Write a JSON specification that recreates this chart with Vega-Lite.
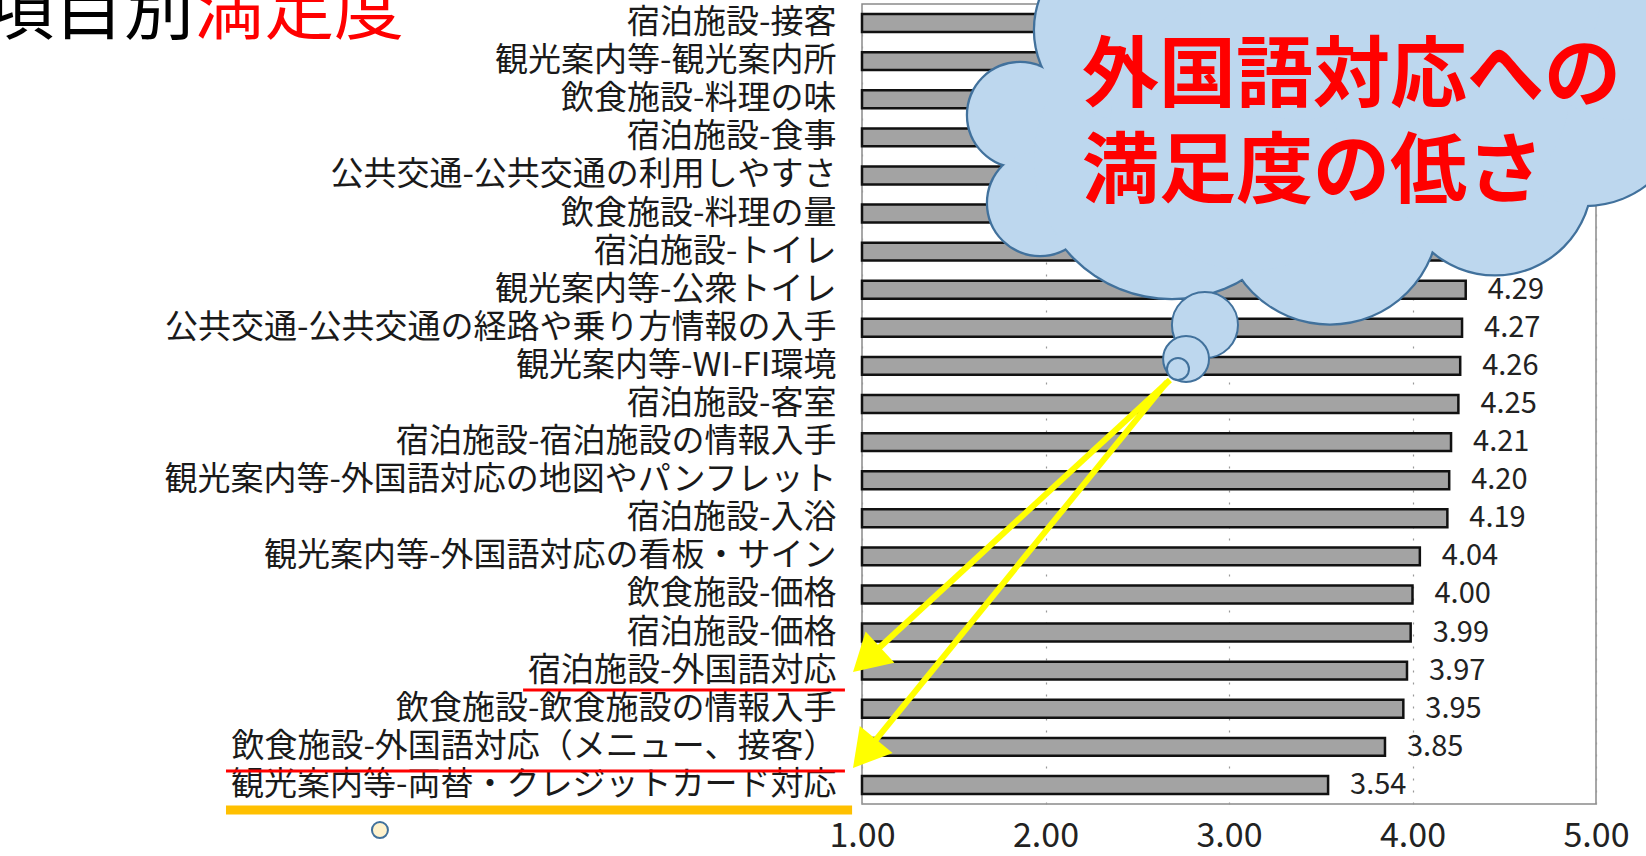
{
  "$schema": "https://vega.github.io/schema/vega-lite/v6.json",
  "width": 734,
  "height": 800,
  "autosize": {"type": "none"},
  "padding": {"left": 862, "top": 4, "right": 50, "bottom": 52},
  "background": "white",
  "config": {
    "font": "Noto Sans CJK JP",
    "view": {"stroke": "#8a8a8a", "strokeWidth": 1.5},
    "axisX": {"format": ".2f", "domain": false, "ticks": false, "labelFontSize": 34, "labelColor": "#222222", "labelPadding": 15, "labelFlush": false, "labelOverlap": false, "grid": true, "gridColor": "#999999", "gridDash": [2, 10], "gridWidth": 1.2, "labelFont": "Noto Sans CJK JP", "tickCount": 5}
  },
  "datasets": {
    "bars": [
      {"item": "宿泊施設-接客", "value": 4.58},
      {"item": "観光案内等-観光案内所", "value": 4.50},
      {"item": "飲食施設-料理の味", "value": 4.47},
      {"item": "宿泊施設-食事", "value": 4.43},
      {"item": "公共交通-公共交通の利用しやすさ", "value": 4.38},
      {"item": "飲食施設-料理の量", "value": 4.34},
      {"item": "宿泊施設-トイレ", "value": 4.31},
      {"item": "観光案内等-公衆トイレ", "value": 4.29},
      {"item": "公共交通-公共交通の経路や乗り方情報の入手", "value": 4.27},
      {"item": "観光案内等-WI-FI環境", "value": 4.26},
      {"item": "宿泊施設-客室", "value": 4.25},
      {"item": "宿泊施設-宿泊施設の情報入手", "value": 4.21},
      {"item": "観光案内等-外国語対応の地図やパンフレット", "value": 4.20},
      {"item": "宿泊施設-入浴", "value": 4.19},
      {"item": "観光案内等-外国語対応の看板・サイン", "value": 4.04},
      {"item": "飲食施設-価格", "value": 4.00},
      {"item": "宿泊施設-価格", "value": 3.99},
      {"item": "宿泊施設-外国語対応", "value": 3.97},
      {"item": "飲食施設-飲食施設の情報入手", "value": 3.95},
      {"item": "飲食施設-外国語対応（メニュー、接客）", "value": 3.85},
      {"item": "観光案内等-両替・クレジットカード対応", "value": 3.54}
    ],
    "cloud": [
      {"x": 1.861, "y": 2.414, "r": 0.283},
      {"x": 1.970, "y": 4.724, "r": 0.283},
      {"x": 2.689, "y": 3.595, "r": 0.752},
      {"x": 3.550, "y": 5.039, "r": 0.589},
      {"x": 4.450, "y": 4.068, "r": 0.523},
      {"x": 4.940, "y": 2.151, "r": 0.545},
      {"x": 2.433, "y": 0.183, "r": 0.490},
      {"x": 3.114, "y": 2.808, "r": 0.763},
      {"x": 4.204, "y": 1.757, "r": 0.654},
      {"x": 3.387, "y": -0.080, "r": 0.545},
      {"x": 5.131, "y": 0.183, "r": 0.490},
      {"x": 4.586, "y": -0.605, "r": 0.436}
    ],
    "bubbles": [
      {"x": 2.869, "y": 7.926, "r": 0.180},
      {"x": 2.766, "y": 8.819, "r": 0.125},
      {"x": 2.722, "y": 9.081, "r": 0.060}
    ],
    "arrows": [
      {"id": "a1", "x": 2.678, "y": 9.370, "x2": 1.0245, "y2": 16.707},
      {"id": "a2", "x": 2.662, "y": 9.423, "x2": 1.0142, "y2": 19.180}
    ],
    "redlines": [
      {"x": -0.847, "x2": 0.907, "y": 17.508},
      {"x": -2.466, "x2": 0.907, "y": 19.634}
    ],
    "orangeline": [
      {"x": -2.466, "x2": 0.946, "y": 20.658}
    ],
    "dot": [{"x": -1.627, "y": 21.183, "r": 0.0436}],
    "titleBlack": [{"t": "項目別", "x": -2.640, "y": 0.3}],
    "titleRed": [{"t": "満足度", "x": -1.496, "y": 0.3}],
    "cloudText": [
      {"t": "外国語対応への", "x": 2.199, "y": 1.443},
      {"t": "満足度の低さ", "x": 2.199, "y": 3.963}
    ]
  },
  "resolve": {"scale": {"y": "independent"}},
  "layer": [
    {
      "data": {"name": "bars"},
      "layer": [
        {
          "mark": {"type": "bar", "fill": "#a3a3a3", "stroke": "#111111", "strokeWidth": 2.5},
          "encoding": {
            "y": {
              "field": "item", "type": "nominal", "sort": null,
              "scale": {"paddingInner": 0.53, "paddingOuter": 0.265},
              "axis": {"title": null, "domain": false, "ticks": false, "labelFontSize": 33, "labelColor": "#1a1a1a", "labelPadding": 26, "labelLimit": 1500, "labelFont": "Noto Sans CJK JP"}
            },
            "x": {
              "field": "value", "type": "quantitative",
              "scale": {"domain": [1, 5], "nice": false, "zero": false},
              "axis": {"title": null, "values": [1, 2, 3, 4, 5]}
            },
            "x2": {"datum": 1}
          }
        },
        {
          "transform": [{"filter": "datum.value < 4.3"}],
          "mark": {"type": "text", "align": "left", "baseline": "middle", "dx": 22, "fontSize": 29, "color": "#222222", "font": "Noto Sans CJK JP"},
          "encoding": {
            "y": {"field": "item", "type": "nominal", "sort": null},
            "x": {"field": "value", "type": "quantitative", "scale": {"domain": [1, 5], "nice": false, "zero": false}, "title": null},
            "text": {"field": "value", "type": "quantitative", "format": ".2f"}
          }
        }
      ]
    },
    {
      "layer": [
        {
          "data": {"name": "redlines"},
          "mark": {"type": "rule", "color": "#ff0000", "strokeWidth": 3},
          "encoding": {
            "x": {"field": "x", "type": "quantitative", "scale": {"domain": [1, 5], "nice": false, "zero": false}, "title": null},
            "x2": {"field": "x2"},
            "y": {"field": "y", "type": "quantitative", "scale": {"domain": [-0.5, 20.5], "reverse": true, "nice": false, "zero": false}, "axis": null}
          }
        },
        {
          "data": {"name": "orangeline"},
          "mark": {"type": "rule", "color": "#ffc000", "strokeWidth": 9},
          "encoding": {
            "x": {"field": "x", "type": "quantitative", "scale": {"domain": [1, 5], "nice": false, "zero": false}, "title": null},
            "x2": {"field": "x2"},
            "y": {"field": "y", "type": "quantitative", "scale": {"domain": [-0.5, 20.5], "reverse": true, "nice": false, "zero": false}, "axis": null}
          }
        },
        {
          "data": {"name": "titleBlack"},
          "mark": {"type": "text", "align": "right", "baseline": "alphabetic", "fontSize": 70, "color": "#000000", "font": "Noto Sans CJK JP"},
          "encoding": {
            "x": {"field": "x", "type": "quantitative", "scale": {"domain": [1, 5], "nice": false, "zero": false}, "title": null},
            "y": {"field": "y", "type": "quantitative", "scale": {"domain": [-0.5, 20.5], "reverse": true, "nice": false, "zero": false}, "axis": null},
            "text": {"field": "t"}
          }
        },
        {
          "data": {"name": "titleRed"},
          "mark": {"type": "text", "align": "right", "baseline": "alphabetic", "fontSize": 70, "color": "#ff0000", "font": "Noto Sans CJK JP"},
          "encoding": {
            "x": {"field": "x", "type": "quantitative", "scale": {"domain": [1, 5], "nice": false, "zero": false}, "title": null},
            "y": {"field": "y", "type": "quantitative", "scale": {"domain": [-0.5, 20.5], "reverse": true, "nice": false, "zero": false}, "axis": null},
            "text": {"field": "t"}
          }
        },
        {
          "data": {"name": "dot"},
          "mark": {"type": "point", "shape": "circle", "fill": "#fff2cc", "stroke": "#41719c", "strokeWidth": 2, "opacity": 1, "fillOpacity": 1},
          "encoding": {
            "x": {"field": "x", "type": "quantitative", "scale": {"domain": [1, 5], "nice": false, "zero": false}, "title": null},
            "y": {"field": "y", "type": "quantitative", "scale": {"domain": [-0.5, 20.5], "reverse": true, "nice": false, "zero": false}, "axis": null},
            "size": {"field": "r", "type": "quantitative", "scale": {"type": "pow", "exponent": 2, "domain": [0, 1], "range": [0, 134689]}, "legend": null}
          }
        },
        {
          "data": {"name": "arrows"},
          "mark": {"type": "rule", "color": "#ffff00", "strokeWidth": 6},
          "encoding": {
            "x": {"field": "x", "type": "quantitative", "scale": {"domain": [1, 5], "nice": false, "zero": false}, "title": null},
            "x2": {"field": "x2"},
            "y": {"field": "y", "type": "quantitative", "scale": {"domain": [-0.5, 20.5], "reverse": true, "nice": false, "zero": false}, "axis": null},
            "y2": {"field": "y2"}
          }
        },
        {
          "data": {"name": "arrows"},
          "transform": [{"filter": "datum.id === 'a1'"}],
          "mark": {"type": "point", "shape": "triangle-up", "size": 1800, "angle": 227.35, "fill": "#ffff00", "strokeWidth": 0, "opacity": 1, "fillOpacity": 1},
          "encoding": {
            "x": {"field": "x2", "type": "quantitative", "scale": {"domain": [1, 5], "nice": false, "zero": false}, "title": null},
            "y": {"field": "y2", "type": "quantitative", "scale": {"domain": [-0.5, 20.5], "reverse": true, "nice": false, "zero": false}, "axis": null}
          }
        },
        {
          "data": {"name": "arrows"},
          "transform": [{"filter": "datum.id === 'a2'"}],
          "mark": {"type": "point", "shape": "triangle-up", "size": 1800, "angle": 219.2, "fill": "#ffff00", "strokeWidth": 0, "opacity": 1, "fillOpacity": 1},
          "encoding": {
            "x": {"field": "x2", "type": "quantitative", "scale": {"domain": [1, 5], "nice": false, "zero": false}, "title": null},
            "y": {"field": "y2", "type": "quantitative", "scale": {"domain": [-0.5, 20.5], "reverse": true, "nice": false, "zero": false}, "axis": null}
          }
        },
        {
          "data": {"name": "cloud"},
          "mark": {"type": "point", "shape": "circle", "fill": "#bdd7ee", "stroke": "#41719c", "strokeWidth": 4.5, "opacity": 1, "fillOpacity": 1},
          "encoding": {
            "x": {"field": "x", "type": "quantitative", "scale": {"domain": [1, 5], "nice": false, "zero": false}, "title": null},
            "y": {"field": "y", "type": "quantitative", "scale": {"domain": [-0.5, 20.5], "reverse": true, "nice": false, "zero": false}, "axis": null},
            "size": {"field": "r", "type": "quantitative", "scale": {"type": "pow", "exponent": 2, "domain": [0, 1], "range": [0, 134689]}, "legend": null}
          }
        },
        {
          "data": {"name": "cloud"},
          "mark": {"type": "point", "shape": "circle", "fill": "#bdd7ee", "strokeWidth": 0, "opacity": 1, "fillOpacity": 1},
          "encoding": {
            "x": {"field": "x", "type": "quantitative", "scale": {"domain": [1, 5], "nice": false, "zero": false}, "title": null},
            "y": {"field": "y", "type": "quantitative", "scale": {"domain": [-0.5, 20.5], "reverse": true, "nice": false, "zero": false}, "axis": null},
            "size": {"field": "r", "type": "quantitative", "scale": {"type": "pow", "exponent": 2, "domain": [0, 1], "range": [0, 134689]}, "legend": null}
          }
        },
        {
          "data": {"name": "bubbles"},
          "mark": {"type": "point", "shape": "circle", "fill": "#bdd7ee", "stroke": "#41719c", "strokeWidth": 2, "opacity": 1, "fillOpacity": 1},
          "encoding": {
            "x": {"field": "x", "type": "quantitative", "scale": {"domain": [1, 5], "nice": false, "zero": false}, "title": null},
            "y": {"field": "y", "type": "quantitative", "scale": {"domain": [-0.5, 20.5], "reverse": true, "nice": false, "zero": false}, "axis": null},
            "size": {"field": "r", "type": "quantitative", "scale": {"type": "pow", "exponent": 2, "domain": [0, 1], "range": [0, 134689]}, "legend": null}
          }
        },
        {
          "data": {"name": "cloudText"},
          "mark": {"type": "text", "align": "left", "baseline": "middle", "fontSize": 77, "fontWeight": "bold", "color": "#ff0000", "font": "Noto Sans CJK JP"},
          "encoding": {
            "x": {"field": "x", "type": "quantitative", "scale": {"domain": [1, 5], "nice": false, "zero": false}, "title": null},
            "y": {"field": "y", "type": "quantitative", "scale": {"domain": [-0.5, 20.5], "reverse": true, "nice": false, "zero": false}, "axis": null},
            "text": {"field": "t"}
          }
        }
      ]
    }
  ]
}
